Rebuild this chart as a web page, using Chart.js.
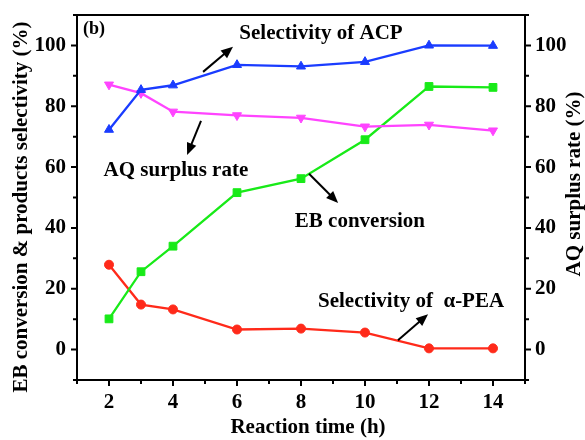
<!DOCTYPE html>
<html>
<head>
<meta charset="utf-8">
<script src="https://cdn.jsdelivr.net/npm/chart.js@4.4.0/dist/chart.umd.min.js"></script>
<style>
  html, body { margin: 0; padding: 0; background: #fff; }
  #wrap { width: 585px; height: 440px; }
</style>
</head>
<body>
<div id="wrap"><canvas id="c" width="585" height="440"></canvas></div>
<script>
// data (b)
const times  = [2, 3, 4, 6, 8, 10, 12, 14];
const acpSel = [72.3, 85.4, 86.9, 93.6, 93.1, 94.6, 100.0, 99.9];
const aqRate = [87.1, 84.3, 78.2, 77.0, 76.2, 73.3, 73.9, 72.0];
const ebConv = [10.1, 25.6, 34.0, 51.6, 56.2, 69.0, 86.5, 86.2];
const peaSel = [27.9, 14.8, 13.2, 6.6, 6.9, 5.6, 0.4, 0.4];

const xTicks = [2, 4, 6, 8, 10, 12, 14];
const xMinor = [1, 3, 5, 7, 9, 11, 13, 15];
const yTicks = [0, 20, 40, 60, 80, 100];
const yMinor = [-10, 10, 30, 50, 70, 90, 110];

const FONT = "'Liberation Serif', 'Times New Roman', serif";
// plot box in canvas pixels
const AREA = { left: 77, top: 15, right: 525, bottom: 380 };

function pts(ys){ return times.map((t, i) => ({ x: t, y: ys[i] })); }

function arrow(ctx, x1, y1, x2, y2){
  const a = Math.atan2(y2 - y1, x2 - x1), c = Math.cos(a), s = Math.sin(a);
  const hl = 12, hw = 5;
  ctx.beginPath();
  ctx.moveTo(x1, y1);
  ctx.lineTo(x2 - hl * 0.7 * c, y2 - hl * 0.7 * s);
  ctx.stroke();
  ctx.beginPath();
  ctx.moveTo(x2, y2);
  ctx.lineTo(x2 - hl * c + hw * s, y2 - hl * s - hw * c);
  ctx.lineTo(x2 - hl * c - hw * s, y2 - hl * s + hw * c);
  ctx.closePath();
  ctx.fill();
}

function place(s, l, t, r, b){
  s.left = l; s.top = t; s.right = r; s.bottom = b;
  s.width = r - l; s.height = b - t;
  s.configure();
}

// pin the plot box so it lines up with the original figure
const pin = {
  id: 'pin',
  afterLayout(chart){
    const ca = chart.chartArea, W = chart.width, H = chart.height;
    Object.assign(ca, AREA, { width: AREA.right - AREA.left, height: AREA.bottom - AREA.top });
    place(chart.scales.x, AREA.left, AREA.bottom, AREA.right, H);
    place(chart.scales.y, 0, AREA.top, AREA.left, AREA.bottom);
    place(chart.scales.y2, AREA.right, AREA.top, W, AREA.bottom);
  }
};

// frame, ticks, titles and labels
const decor = {
  id: 'decor',
  afterDraw(chart){
    const { ctx, chartArea: a } = chart;
    const X = chart.scales.x, Y = chart.scales.y;
    const px = v => X.getPixelForValue(v), py = v => Y.getPixelForValue(v);
    ctx.save();
    ctx.strokeStyle = '#000'; ctx.fillStyle = '#000'; ctx.lineWidth = 2;
    ctx.strokeRect(a.left, a.top, a.right - a.left, a.bottom - a.top);

    ctx.beginPath();
    xTicks.forEach(v => { ctx.moveTo(px(v), a.bottom); ctx.lineTo(px(v), a.bottom + 6); });
    xMinor.forEach(v => { ctx.moveTo(px(v), a.bottom); ctx.lineTo(px(v), a.bottom + 4); });
    yTicks.forEach(v => {
      ctx.moveTo(a.left, py(v)); ctx.lineTo(a.left - 6, py(v));
      ctx.moveTo(a.right, py(v)); ctx.lineTo(a.right + 6, py(v));
    });
    yMinor.forEach(v => {
      ctx.moveTo(a.left, py(v)); ctx.lineTo(a.left - 4, py(v));
      ctx.moveTo(a.right, py(v)); ctx.lineTo(a.right + 4, py(v));
    });
    ctx.stroke();

    // axis titles
    ctx.font = 'bold 21px ' + FONT;
    ctx.textAlign = 'center'; ctx.textBaseline = 'middle';
    ctx.fillText('Reaction time (h)', 308, 428);
    ctx.save(); ctx.translate(22, 207); ctx.rotate(-Math.PI / 2);
    ctx.fillText('EB conversion & products selectivity (%)', 0, 0); ctx.restore();
    ctx.save(); ctx.translate(575, 184); ctx.rotate(-Math.PI / 2);
    ctx.fillText('AQ surplus rate (%)', 0, 0); ctx.restore();

    // annotations
    ctx.textBaseline = 'alphabetic';
    ctx.font = 'bold 18px ' + FONT;
    ctx.textAlign = 'left';
    ctx.fillText('(b)', px(1.19), py(103.6));
    ctx.font = 'bold 21px ' + FONT;
    ctx.textAlign = 'center';
    ctx.fillText('Selectivity of ACP', px(8.625), py(102.1));
    ctx.fillText('AQ surplus rate', px(4.09), py(57.1));
    ctx.fillText('EB conversion', px(9.84), py(40.3));
    ctx.fillText('Selectivity of  \u03b1-PEA', px(11.44), py(13.9));

    arrow(ctx, px(4.94), py(91.3), px(5.875), py(99.6));
    arrow(ctx, px(4.875), py(75.2), px(4.44), py(64.0));
    arrow(ctx, px(8.25), py(57.8), px(9.16), py(48.2));
    arrow(ctx, px(11.03), py(3.06), px(11.97), py(11.6));
    ctx.restore();
  }
};

const tickFont = { family: FONT, size: 21, weight: 'bold' };

new Chart(document.getElementById('c'), {
  type: 'line',
  data: {
    datasets: [
      { label: 'Selectivity of ACP', data: pts(acpSel), yAxisID: 'y',
        borderColor: '#1a3cff', backgroundColor: '#1a3cff', pointStyle: 'triangle', pointRadius: 5.2 },
      { label: 'AQ surplus rate', data: pts(aqRate), yAxisID: 'y2',
        borderColor: '#ff44ff', backgroundColor: '#ff44ff', pointStyle: 'triangle', pointRotation: 180, pointRadius: 5.2 },
      { label: 'EB conversion', data: pts(ebConv), yAxisID: 'y',
        borderColor: '#18ea18', backgroundColor: '#18ea18', pointStyle: 'rect', pointRadius: 5.5 },
      { label: 'Selectivity of \u03b1-PEA', data: pts(peaSel), yAxisID: 'y',
        borderColor: '#ff2a1a', backgroundColor: '#ff2a1a', pointStyle: 'circle', pointRadius: 4.5 }
    ]
  },
  options: {
    responsive: false,
    animation: false,
    devicePixelRatio: 1,
    layout: { padding: 0 },
    elements: { line: { borderWidth: 2.3, tension: 0 }, point: { borderWidth: 1 } },
    plugins: { legend: { display: false }, tooltip: { enabled: false } },
    scales: {
      x: {
        type: 'linear', min: 1, max: 15,
        afterBuildTicks(s){ s.ticks = xTicks.map(v => ({ value: v })); },
        grid: { display: false, drawTicks: false }, border: { display: false },
        ticks: { color: '#000', font: tickFont, padding: 10, maxRotation: 0 }
      },
      y: {
        position: 'left', min: -10, max: 110,
        afterBuildTicks(s){ s.ticks = yTicks.map(v => ({ value: v })); },
        grid: { display: false, drawTicks: false }, border: { display: false },
        ticks: { color: '#000', font: tickFont, padding: 11 }
      },
      y2: {
        position: 'right', min: -10, max: 110,
        afterBuildTicks(s){ s.ticks = yTicks.map(v => ({ value: v })); },
        grid: { display: false, drawTicks: false }, border: { display: false },
        ticks: { color: '#000', font: tickFont, padding: 10 }
      }
    }
  },
  plugins: [pin, decor]
});
</script>
</body>
</html>
